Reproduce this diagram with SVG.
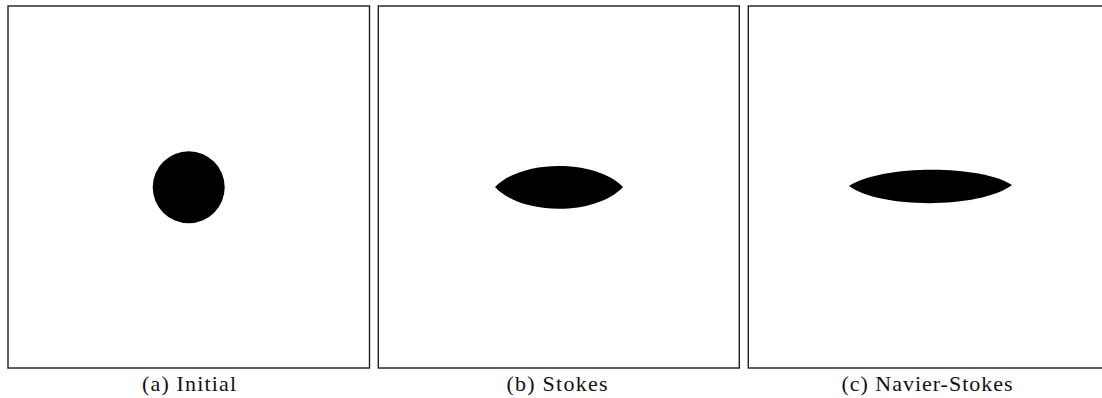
<svg xmlns="http://www.w3.org/2000/svg" width="1102" height="398" viewBox="0 0 1102 398">
<style>
.frame{fill:#fff;stroke:#1e1e1e;stroke-width:1.4}
.blob{fill:#000}
.cap{font-family:"Liberation Serif","DejaVu Serif",serif;font-size:22px;fill:#111;text-anchor:middle}
</style>
<rect x="0" y="0" width="1102" height="398" fill="#fff"/>
<g id="panel-a">
<rect class="frame" x="8" y="6" width="361.5" height="362"/>
<circle class="blob" cx="188.7" cy="187.2" r="36"/>
<text class="cap" x="189" y="390.5" textLength="94" lengthAdjust="spacing">(a) Initial</text>
</g>
<g id="panel-b">
<rect class="frame" x="378.3" y="6" width="361" height="362"/>
<path class="blob" d="M495,187 C522,159 596,159 623,187 C596,216 522,216 495,187 Z"/>
<text class="cap" x="557" y="390.5" textLength="101" lengthAdjust="spacing">(b) Stokes</text>
</g>
<g id="panel-c">
<rect class="frame" x="748.3" y="6" width="361" height="362"/>
<path class="blob" d="M849,186 C880,165 980,164 1012,185 C980,209 880,209 849,186 Z"/>
<text class="cap" x="927" y="390.5" textLength="171" lengthAdjust="spacing">(c) Navier-Stokes</text>
</g>
<g id="connectors"></g>
</svg>
